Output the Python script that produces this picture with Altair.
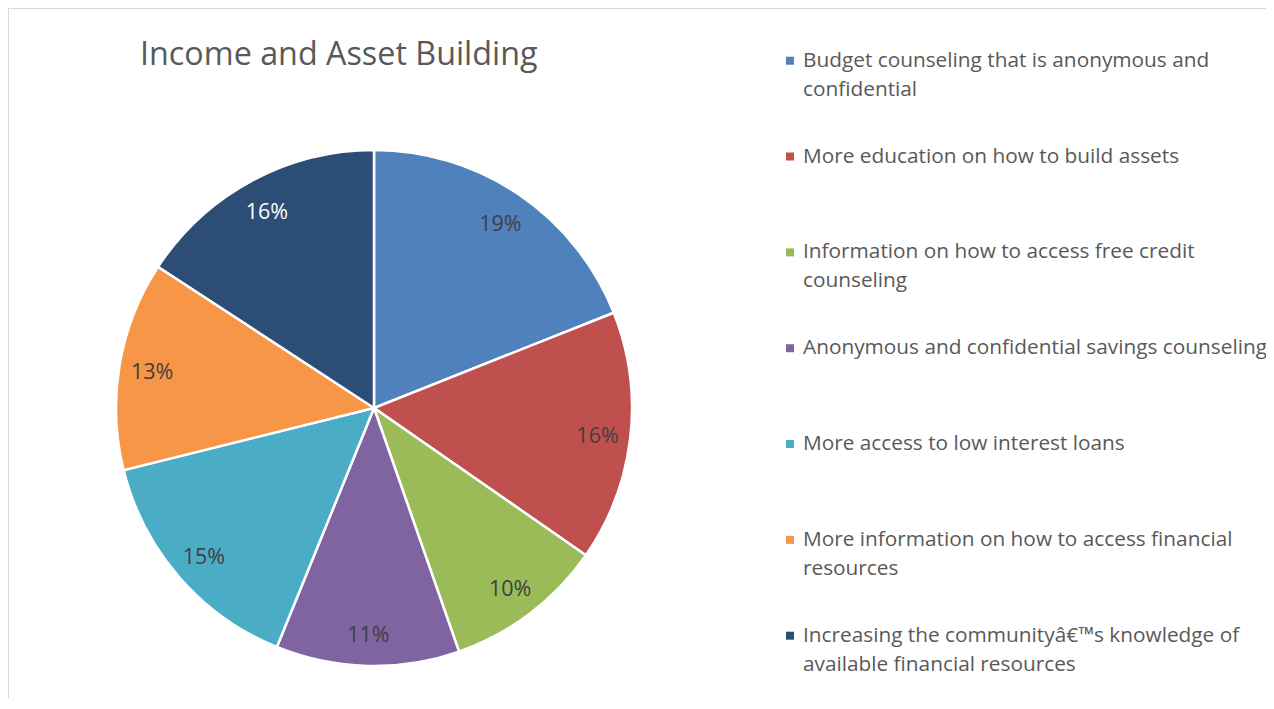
import altair as alt
import pandas as pd

categories = [
    "Budget counseling that is anonymous and confidential",
    "More education on how to build assets",
    "Information on how to access free credit counseling",
    "Anonymous and confidential savings counseling",
    "More access to low interest loans",
    "More information on how to access financial resources",
    "Increasing the communityâ€™s knowledge of available financial resources",
]
legend_labels = [
    "Budget counseling that is anonymous and\nconfidential",
    "More education on how to build assets",
    "Information on how to access free credit\ncounseling",
    "Anonymous and confidential savings counseling",
    "More access to low interest loans",
    "More information on how to access financial\nresources",
    "Increasing the communityâ€™s knowledge of\navailable financial resources",
]
values = [19.0, 15.7, 10.0, 11.5, 15.0, 13.1, 15.8]
pct_labels = ["19%", "16%", "10%", "11%", "15%", "13%", "16%"]
colors = ["#4F81BD", "#C0504D", "#9BBB59", "#8064A2", "#4BACC6", "#F79646", "#2C4D75"]
title_text = "Income and Asset Building"

df = pd.DataFrame({
    "idx": list(range(len(categories))),
    "cat": categories,
    "legend": legend_labels,
    "value": values,
    "pct": pct_labels,
})

W, H = 1258, 690
CX, CY, R = 366, 400, 258
FONT = "Open Sans"

base = alt.Chart(df)
theta = alt.Theta("value:Q", stack=True)
color = alt.Color("cat:N", scale=alt.Scale(domain=categories, range=colors), legend=None)
order = alt.Order("idx:Q", sort="ascending")

pie = base.mark_arc(radius=R, stroke="white", strokeWidth=2.5).encode(
    theta=theta, color=color, order=order, x=alt.value(CX), y=alt.value(CY)
)
pie_text = base.mark_text(radius=225, dy=3, font=FONT, fontSize=21.5).encode(
    theta=theta, order=order, detail="cat:N", text="pct:N", x=alt.value(CX), y=alt.value(CY),
    color=alt.condition(alt.datum.idx == 6, alt.value("#ffffff"), alt.value("#404040")),
)

leg_y = alt.Y("cat:N", sort=categories, axis=None,
              scale=alt.Scale(type="point", range=[58.7, 633.7], padding=0))
leg_sq = base.mark_square(size=64, opacity=1).encode(
    x=alt.value(782), y=leg_y, yOffset=alt.value(-6), color=color
)
leg_txt = base.mark_text(align="left", baseline="alphabetic", lineBreak="\n", lineHeight=29,
                         font=FONT, fontSize=20.8, color="#595959").encode(
    x=alt.value(795), y=leg_y, text="legend:N"
)

title = alt.Chart(alt.Data(values=[{"t": title_text}])).mark_text(
    align="left", baseline="alphabetic", font=FONT, fontSize=32.3, color="#595959"
).encode(x=alt.value(132), y=alt.value(57), text="t:N")

border_top = alt.Chart(alt.Data(values=[{"a": 1}])).mark_rule(color="#d9d9d9", strokeWidth=1).encode(
    x=alt.value(0), x2=alt.value(W), y=alt.value(0.5)
)
border_left = alt.Chart(alt.Data(values=[{"a": 1}])).mark_rule(color="#d9d9d9", strokeWidth=1).encode(
    x=alt.value(0.5), y=alt.value(0), y2=alt.value(H)
)

chart = alt.layer(border_top, border_left, pie, pie_text, leg_sq, leg_txt, title).properties(
    width=W, height=H, autosize=alt.AutoSizeParams(type="none"), padding=0
).configure_view(stroke=None)

chart.save("out.html", embed_options={"renderer": "svg", "actions": False})
